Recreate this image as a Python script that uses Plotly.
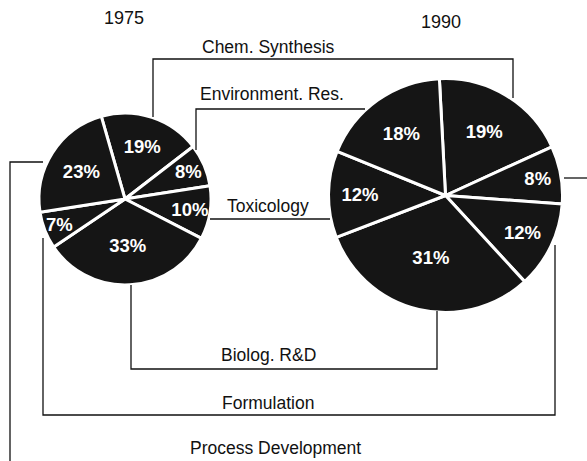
import plotly.graph_objects as go

years = ["1975", "1990"]
categories = ["Chem. Synthesis", "Environment. Res.", "Toxicology",
              "Biolog. R&D", "Formulation", "Process Development"]
values_1975 = [19, 8, 10, 33, 7, 23]
values_1990 = [19, 8, 12, 31, 12, 18]

W, H = 587, 461
FONT = "Liberation Sans, Arial, Helvetica, sans-serif"

def px_x(x):
    return x / W

def px_y(y):
    return 1 - y / H

# pie placement (pixels): center and radius
pies = [
    dict(vals=values_1975, cx=125, cy=199, r=86, rot=-16),
    dict(vals=values_1990, cx=445.5, cy=195.5, r=117, rot=-3),
]

fig = go.Figure()
for p in pies:
    fig.add_trace(go.Pie(
        labels=categories, values=p["vals"], sort=False, direction="clockwise",
        rotation=p["rot"],
        domain=dict(x=[px_x(p["cx"] - p["r"]), px_x(p["cx"] + p["r"])],
                    y=[px_y(p["cy"] + p["r"]), px_y(p["cy"] - p["r"])]),
        marker=dict(colors=["#151515"] * len(categories),
                    line=dict(color="white", width=3)),
        texttemplate="%{value}%", textposition="inside",
        insidetextorientation="horizontal",
        textfont=dict(family=FONT, size=18.5, color="white", weight="bold"),
        showlegend=False, hoverinfo="label+value",
    ))

# overlay axis in pixel units for connector lines
fig.add_trace(go.Scatter(x=[0, W], y=[0, H], mode="markers",
                         marker=dict(opacity=0), showlegend=False, hoverinfo="skip"))

connectors = [
    [(153, 117), (153, 59), (513, 59), (513, 98)],
    [(196, 150), (196, 109), (365, 109)],
    [(210, 219), (330, 219)],
    [(131, 285), (131, 369), (437, 369), (437, 311)],
    [(43, 238), (43, 415), (555, 415), (555, 245)],
    [(43, 162), (10, 162), (10, 461)],
    [(564, 178), (587, 178)],
]
shapes = []
for pts in connectors:
    path = "M " + " L ".join(f"{x},{y}" for x, y in pts)
    shapes.append(dict(type="path", path=path, xref="x", yref="y",
                       line=dict(color="#111", width=1.3), layer="above"))

label_pos = [(268, 47), (272, 94), (268, 206), (268, 355), (268, 403), (275, 448)]
annotations = []
for name, (x, y) in zip(categories, label_pos):
    annotations.append(dict(x=x, y=y, xref="x", yref="y", text=name, showarrow=False,
                            font=dict(family=FONT, size=17.5, color="#111"),
                            xanchor="center", yanchor="middle"))
for yr, (x, y) in zip(years, [(124, 18), (441, 22)]):
    annotations.append(dict(x=x, y=y, xref="x", yref="y", text=yr, showarrow=False,
                            font=dict(family=FONT, size=18, color="#111"),
                            xanchor="center", yanchor="middle"))

fig.update_layout(
    width=W, height=H, margin=dict(l=0, r=0, t=0, b=0),
    paper_bgcolor="white", plot_bgcolor="rgba(0,0,0,0)",
    xaxis=dict(range=[0, W], visible=False, fixedrange=True),
    yaxis=dict(range=[H, 0], visible=False, fixedrange=True),
    uniformtext=dict(minsize=18.5, mode="show"),
    shapes=shapes, annotations=annotations,
)
fig.write_html("out.html", config=dict(displayModeBar=False),
               post_script="document.body.style.margin='0';document.body.style.overflow='hidden';")
